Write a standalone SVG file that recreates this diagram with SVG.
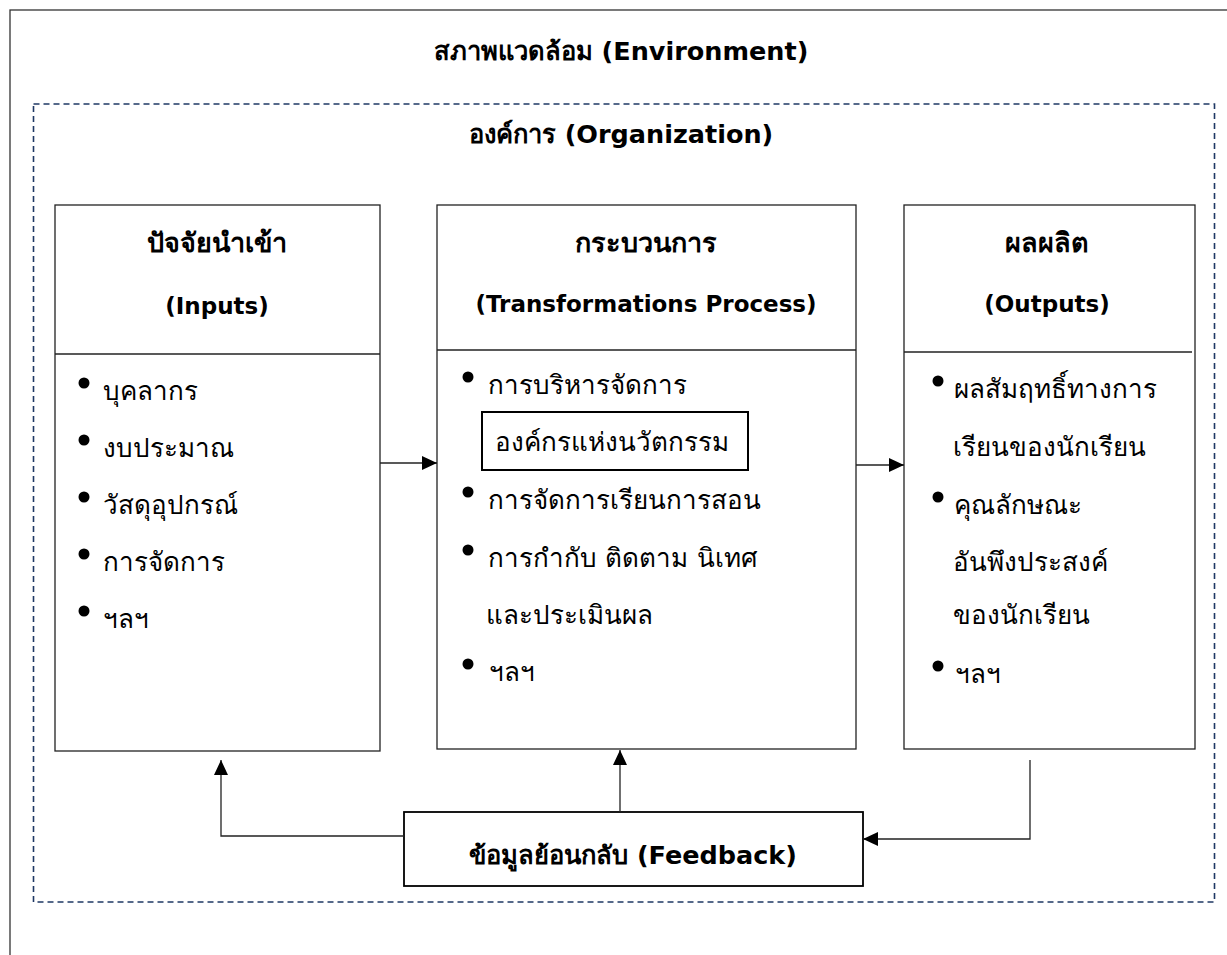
<svg xmlns="http://www.w3.org/2000/svg" width="1227" height="955" viewBox="0 0 1227 955">
<defs>
<style>
.t{font-family:"DejaVu Sans","Noto Sans",sans-serif;fill:#000}
.b{font-weight:bold}
.ht{font-size:25.5px}
.hb{font-size:27px}
.hl{font-size:23px}
.m{font-size:26px}
.box{fill:#fff;stroke:#222;stroke-width:1.3}
.ln{stroke:#222;stroke-width:1.3;fill:none}
.bul{fill:#000}
</style>
<marker id="ah" markerUnits="userSpaceOnUse" markerWidth="16" markerHeight="14" refX="15" refY="7" orient="auto">
<path d="M0,0 L15,7 L0,14 Z" fill="#000"/>
</marker>
</defs>
<rect width="1227" height="955" fill="#fff"/>
<g id="environment">
<rect x="10" y="10" width="1240" height="960" fill="none" stroke="#333" stroke-width="1.3"/>
<text class="t b ht" x="621" y="60" text-anchor="middle">สภาพแวดล้อม (Environment)</text>
</g>
<g id="organization">
<rect x="33.5" y="104" width="1181" height="798" fill="none" stroke="#1F3864" stroke-width="1.6" stroke-dasharray="6 4"/>
<text class="t b ht" x="621" y="143" text-anchor="middle">องค์การ (Organization)</text>
</g>
<g id="inputs">
<rect class="box" x="55" y="205" width="325" height="546"/>
<line class="ln" x1="55" y1="354" x2="380" y2="354"/>
<text class="t b hb" x="217" y="252" text-anchor="middle">ปัจจัยนำเข้า</text>
<text class="t b hl" x="217" y="314" text-anchor="middle">(Inputs)</text>
<circle class="bul" cx="84" cy="383" r="5.5"/><text class="t m" x="103" y="400">บุคลากร</text>
<circle class="bul" cx="84" cy="440" r="5.5"/><text class="t m" x="103" y="457">งบประมาณ</text>
<circle class="bul" cx="84" cy="497" r="5.5"/><text class="t m" x="103" y="514">วัสดุอุปกรณ์</text>
<circle class="bul" cx="84" cy="554" r="5.5"/><text class="t m" x="103" y="571">การจัดการ</text>
<circle class="bul" cx="84" cy="611" r="5.5"/><text class="t m" x="103" y="628">ฯลฯ</text>
</g>
<g id="process">
<rect class="box" x="437" y="205" width="419" height="544"/>
<line class="ln" x1="437" y1="350" x2="856" y2="350"/>
<text class="t b hb" x="646" y="252" text-anchor="middle">กระบวนการ</text>
<text class="t b hl" x="646" y="312" text-anchor="middle">(Transformations Process)</text>
<circle class="bul" cx="468" cy="377" r="5.5"/><text class="t m" x="488" y="394">การบริหารจัดการ</text>
<rect x="482" y="412" width="266" height="58" fill="none" stroke="#000" stroke-width="2"/>
<text class="t m" x="495" y="451">องค์กรแห่งนวัตกรรม</text>
<circle class="bul" cx="468" cy="492" r="5.5"/><text class="t m" x="488" y="509">การจัดการเรียนการสอน</text>
<circle class="bul" cx="468" cy="550" r="5.5"/><text class="t m" x="488" y="567">การกำกับ ติดตาม นิเทศ</text>
<text class="t m" x="486" y="624">และประเมินผล</text>
<circle class="bul" cx="468" cy="664" r="5.5"/><text class="t m" x="489" y="681">ฯลฯ</text>
</g>
<g id="outputs">
<rect class="box" x="904" y="205" width="291" height="544"/>
<line class="ln" x1="904" y1="352" x2="1192" y2="352"/>
<text class="t b hb" x="1047" y="252" text-anchor="middle">ผลผลิต</text>
<text class="t b hl" x="1047" y="312" text-anchor="middle">(Outputs)</text>
<circle class="bul" cx="938" cy="381" r="5.5"/><text class="t m" x="954" y="398">ผลสัมฤทธิ์ทางการ</text>
<text class="t m" x="953" y="456">เรียนของนักเรียน</text>
<circle class="bul" cx="938" cy="497" r="5.5"/><text class="t m" x="954" y="514">คุณลักษณะ</text>
<text class="t m" x="953" y="571">อันพึงประสงค์</text>
<text class="t m" x="953" y="624">ของนักเรียน</text>
<circle class="bul" cx="938" cy="666" r="5.5"/><text class="t m" x="955" y="683">ฯลฯ</text>
</g>
<g id="feedback">
<rect x="404" y="812" width="459" height="74" fill="#fff" stroke="#000" stroke-width="1.8"/>
<text class="t b ht" x="633" y="864" text-anchor="middle">ข้อมูลย้อนกลับ (Feedback)</text>
</g>
<g id="connectors">
<line class="ln" x1="380" y1="463" x2="437" y2="463" marker-end="url(#ah)"/>
<line class="ln" x1="856" y1="465" x2="904" y2="465" marker-end="url(#ah)"/>
<polyline class="ln" points="404,836 221,836 221,760" marker-end="url(#ah)"/>
<line class="ln" x1="620" y1="812" x2="620" y2="750" marker-end="url(#ah)"/>
<polyline class="ln" points="1030,760 1030,839 863,839" marker-end="url(#ah)"/>
</g>
</svg>
